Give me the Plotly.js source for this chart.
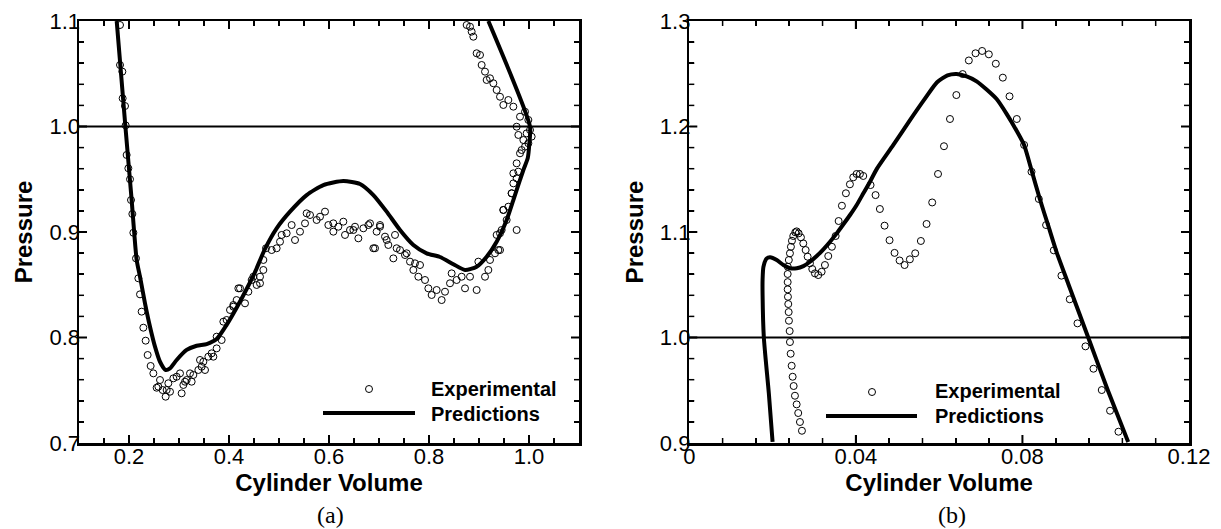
<!DOCTYPE html>
<html>
<head>
<meta charset="utf-8">
<script src="https://cdn.plot.ly/plotly-3.0.1.min.js"></script>
<style>html,body{margin:0;padding:0;background:#fff;}#chart{width:1221px;height:529px;}</style>
</head>
<body>
<div id="chart"></div>
<script>
// ---------- Panel (a) ----------
const expA_x = [0.182,0.182,0.1867,0.1873,0.192,0.1933,0.1953,0.1987,0.202,0.204,0.2067,0.2087,0.214,
0.2187,0.222,0.2253,0.2287,0.2333,0.2373,0.2433,0.2487,0.2553,0.262,0.2673,0.2733,0.282,0.2887,0.2953,0.3053,0.3087,0.3153,0.3253,0.3287,0.3387,0.3453,0.352,0.3587,0.3653,0.3753,0.3853,0.3953,0.402,0.4087,0.4153,0.422,0.432,0.4387,0.4487,0.462,0.4687,
0.2587,0.2753,0.2787,0.302,0.312,0.322,0.342,0.3487,0.3687,
0.3753,0.3887,0.4087,0.4187,0.4453,0.4553,0.462,0.4687,0.474,0.4853,0.4953,0.502,0.5053,0.5153,0.5253,0.532,0.542,0.552,0.562,0.5753,0.582,0.592,0.5987,0.6087,0.6187,0.6287,0.632,0.642,0.652,0.6587,0.6687,0.6787,0.6887,0.6953,
0.5553,0.6087,0.6487,0.682,0.702,0.7153,0.7353,0.7553,0.772,
0.702,0.692,0.712,0.7187,0.732,0.7287,0.742,0.752,0.762,0.7687,0.782,0.7787,0.792,0.7987,0.8053,0.8153,0.8253,0.832,0.842,0.8453,0.8553,0.8653,0.872,0.882,0.8953,0.8987,0.912,0.9187,0.922,0.932,0.9353,0.942,0.9453,0.9487,0.9553,0.9587,0.9653,0.9687,0.9753,0.9787,
0.9753,0.9853,0.9887,0.9953,1.002,0.9987,0.992,0.982,0.9753,0.9787,0.9687,0.9587,0.9487,0.942,0.9353,0.9287,0.922,0.9153,0.912,0.9053,0.902,0.8953,0.8887,0.8853,0.8753,0.882,
0.9753,0.9653,0.9687,0.9487,0.942,0.9387,0.982,0.992,0.9987,1.0053];
const expA_y = [1.0962,1.0583,1.052,1.0267,1.0194,1.0011,0.973,0.9604,0.95,0.9303,0.9171,0.8993,0.875,
0.8561,0.8409,0.8245,0.8093,0.797,0.7834,0.773,0.766,0.7524,0.7597,0.7502,0.7439,0.7486,0.7613,0.7628,0.7471,0.755,0.7597,0.7581,0.7645,0.7692,0.7723,0.7692,0.7818,0.785,0.7897,0.7976,0.8166,0.8261,0.8308,0.8355,0.8466,0.8324,0.8434,0.8576,0.8514,0.864,
0.7534,0.7502,0.7566,0.766,0.7581,0.766,0.7787,0.777,0.7818,
0.8008,0.815,0.8292,0.8466,0.8545,0.8498,0.8576,0.8735,0.8846,0.8829,0.8846,0.8908,0.8972,0.8988,0.9066,0.8924,0.9003,0.9082,0.9161,0.9114,0.9145,0.9193,0.9066,0.9003,0.905,0.9098,0.8972,0.9019,0.905,0.894,0.9035,0.9066,0.8846,0.9003,
0.9177,0.9082,0.9019,0.9082,0.905,0.8924,0.8846,0.8798,0.8703,
0.9066,0.8846,0.8956,0.8877,0.8972,0.875,0.8829,0.8782,0.8719,0.864,0.8687,0.8576,0.8545,0.8466,0.8403,0.845,0.8355,0.8434,0.8514,0.8608,0.8545,0.8576,0.8466,0.8576,0.845,0.8719,0.8576,0.864,0.8735,0.8798,0.8972,0.8829,0.9019,0.9209,0.9114,0.924,0.9367,0.9461,0.9509,0.9572,
0.9651,0.9777,0.9872,0.9935,0.9967,1.0062,1.014,1.0093,0.9998,0.992,1.0188,1.0251,1.0204,1.0282,1.0346,1.041,1.0457,1.0441,1.052,1.0583,1.0678,1.0694,1.0851,1.0899,1.0962,1.0946,
0.9019,0.9367,0.9556,0.9209,0.8988,0.8829,0.9746,0.9809,0.9841,0.9904];

const predA_x = [0.1754,0.1926,0.2053,0.2153,0.222,0.232,0.242,0.252,0.262,0.2733,0.282,0.2953,0.3153,0.3353,0.3553,0.3753,0.3953,0.415,0.4353,0.452,0.472,0.4953,0.522,0.5553,0.5887,0.6287,0.662,0.6887,0.7153,0.742,0.7687,0.7953,0.822,0.8487,0.872,0.8953,0.9153,0.9353,0.9553,0.9687,0.982,0.9887,0.9975,1.0007,1.002,0.9187];
const predA_y = [1.1,1.0011,0.9303,0.8735,0.8577,0.8324,0.8102,0.7913,0.777,0.7692,0.7708,0.7787,0.7882,0.7922,0.7938,0.7985,0.812,0.828,0.846,0.862,0.884,0.9035,0.9193,0.935,0.9445,0.9483,0.9455,0.935,0.9193,0.9019,0.8877,0.8798,0.8763,0.8695,0.864,0.8671,0.8766,0.8908,0.9114,0.9303,0.9493,0.9588,0.970,0.984,1.0,1.1];

// ---------- Panel (b) ----------
const expB_x = [0.02705,0.02657,0.02616,0.02578,0.02537,0.02506,0.02482,0.02458,0.02434,0.02417,0.0241,0.02393,0.02386,0.02377,0.02369,0.02362,0.02362,0.02362,0.02365,0.0239,0.02417,0.0244,0.02465,0.02497,0.02545,0.02578,0.02626,0.02681,0.02737,0.02794,0.02842,0.02897,0.02953,0.03017,0.03097,0.03178,0.03257,0.03337,0.03425,0.03514,0.03586,0.03665,0.03761,0.03857,0.03937,0.04018,0.04097,0.04177,0.04353,0.04473,0.04577,0.04689,0.04809,0.04929,0.0505,0.0517,0.05297,0.05425,0.05561,0.05698,0.05833,0.05973,0.06116,0.0626,0.06413,0.06565,0.06713,0.06874,0.07032,0.07193,0.07361,0.07529,0.0769,0.07865,0.0804,0.08218,0.08393,0.08568,0.08753,0.08937,0.09137,0.09322,0.09514,0.09706,0.09905,0.10104,0.10306];
const expB_y = [0.9116,0.9199,0.9284,0.9366,0.9448,0.954,0.9628,0.9732,0.9846,0.9957,1.0061,1.0159,1.0241,1.0317,1.0386,1.0456,1.0525,1.0602,1.0671,1.0734,1.0798,1.086,1.0917,1.0962,1.0997,1.1006,1.0987,1.0949,1.0892,1.0829,1.0766,1.0703,1.0649,1.0608,1.0592,1.0623,1.0687,1.0772,1.086,1.0962,1.1104,1.1249,1.1367,1.1452,1.1518,1.155,1.155,1.1531,1.1445,1.135,1.1218,1.106,1.0922,1.0802,1.073,1.0687,1.0741,1.0798,1.0915,1.1076,1.128,1.155,1.1813,1.2071,1.2298,1.2497,1.2626,1.2694,1.2716,1.2684,1.2595,1.2463,1.2286,1.2071,1.1825,1.1571,1.1313,1.1066,1.0826,1.0586,1.0362,1.0134,0.9916,0.9704,0.9502,0.9306,0.9107];

const predB_x = [0.0200,0.0191,0.0179,0.0176,0.0176,0.0178,0.0186,0.0194,0.0210,0.0226,0.0242,0.0258,0.0274,0.0290,0.0306,0.0322,0.0338,0.0354,0.0370,0.0386,0.0402,0.0418,0.0434,0.0450,0.0490,0.0530,0.0565,0.0595,0.0620,0.0642,0.0666,0.0690,0.0714,0.0738,0.0762,0.0786,0.0804,0.0823,0.0842,0.0862,0.0882,0.0910,0.0958,0.1005,0.1054];
const predB_y = [0.901,0.947,1.0,1.04,1.055,1.067,1.075,1.076,1.0734,1.0687,1.0656,1.0656,1.0677,1.0718,1.0772,1.0836,1.0908,1.0987,1.1073,1.1161,1.1256,1.1367,1.1477,1.1596,1.1825,1.2061,1.2260,1.2420,1.2485,1.2498,1.2475,1.2428,1.235,1.226,1.212,1.196,1.1825,1.157,1.131,1.106,1.081,1.051,1.0,0.95,0.901];

// ---------- Tick positions ----------
const xMajorA = [0.2,0.4,0.6,0.8,1.0];
const xMinorA = [0.15,0.25,0.3,0.35,0.45,0.5,0.55,0.65,0.7,0.75,0.85,0.9,0.95,1.05];
const yMajorA = [0.8,0.9,1.0];
const yMinorA = [0.72,0.74,0.76,0.78,0.82,0.84,0.86,0.88,0.92,0.94,0.96,0.98,1.02,1.04,1.06,1.08];
const xMajorB = [0.04,0.08];
const xMinorB = [0.008,0.016,0.024,0.032,0.048,0.056,0.064,0.072,0.088,0.096,0.104,0.112];
const yMajorB = [1.0,1.1,1.2];
const yMinorB = [0.92,0.94,0.96,0.98,1.02,1.04,1.06,1.08,1.12,1.14,1.16,1.18,1.22,1.24,1.26,1.28];

const legendLabels = ['Experimental','Predictions'];
const panelLabels = ['(a)','(b)'];
const xTitle = 'Cylinder Volume';
const yTitle = 'Pressure';

const SANS = 'Liberation Sans, Arial, sans-serif';
const marker = {symbol:'circle-open', size:7, color:'#000', line:{width:1, color:'#000'}};
const lineStyle = {color:'#000', width:4, shape:'spline', smoothing:0.6};

const traces = [
  {x:expA_x, y:expA_y, mode:'markers', marker:marker, xaxis:'x', yaxis:'y', name:legendLabels[0], showlegend:false},
  {x:predA_x, y:predA_y, mode:'lines', line:lineStyle, xaxis:'x', yaxis:'y', name:legendLabels[1], showlegend:false},
  {x:expB_x, y:expB_y, mode:'markers', marker:marker, xaxis:'x2', yaxis:'y2', name:legendLabels[0], showlegend:false},
  {x:predB_x, y:predB_y, mode:'lines', line:lineStyle, xaxis:'x2', yaxis:'y2', name:legendLabels[1], showlegend:false}
];

function axisBase(extra){
  return Object.assign({
    showline:true, linecolor:'#000', linewidth:2.5, mirror:'ticks',
    ticks:'inside', ticklen:8, tickwidth:1.5, tickcolor:'#000',
    showgrid:false, zeroline:false, ticklabelstandoff:-8,
    tickfont:{family:SANS, size:22, color:'#000'},
    tickmode:'linear'
  }, extra);
}
function minorTicks(d){
  return {dtick:d, ticks:'inside', ticklen:5, tickwidth:1.5, tickcolor:'#000', showgrid:false};
}
const W = 1221, H = 529, ML = 79, MR = 32, MT = 21, MB = 86;
const PW = W - ML - MR, PH = H - MT - MB;
const px = v => (v - ML) / PW, py = v => (H - MB - v) / PH;
const titleFont = {family:SANS, size:24, color:'#000', weight:'bold'};
const legFont = {family:SANS, size:20, color:'#000', weight:'bold'};
const serif = {family:'Liberation Serif, Times New Roman, serif', size:24, color:'#000'};

const domA = [0, 500/PW], domB = [(689.3-ML)/PW, 1];

// tick marks drawn on the frame (inside), positioned through each axis' scale
function tickShapes(xa, ya, domX, xMaj, xMin, yMaj, yMin){
  const out = [];
  const wpx = (domX[1]-domX[0]) * PW, hpx = PH;
  const add = (vals, len, w) => {
    vals.forEach(v => {
      const fx = len / hpx;
      out.push({type:'line', xref:xa, yref:ya+' domain', x0:v, x1:v, y0:0, y1:fx, line:{color:'#000', width:w}});
      out.push({type:'line', xref:xa, yref:ya+' domain', x0:v, x1:v, y0:1, y1:1-fx, line:{color:'#000', width:w}});
    });
  };
  const addY = (vals, len, w) => {
    vals.forEach(v => {
      const fy = len / wpx;
      out.push({type:'line', xref:xa+' domain', yref:ya, x0:0, x1:fy, y0:v, y1:v, line:{color:'#000', width:w}});
      out.push({type:'line', xref:xa+' domain', yref:ya, x0:1, x1:1-fy, y0:v, y1:v, line:{color:'#000', width:w}});
    });
  };
  add(xMaj, 8, 2); add(xMin, 5, 1.5);
  addY(yMaj, 8, 2); addY(yMin, 5, 1.5);
  return out;
}

const shapes = [
  {type:'line', xref:'x domain', yref:'y', x0:0, x1:1, y0:1, y1:1, line:{color:'#000', width:2}},
  {type:'line', xref:'x2 domain', yref:'y2', x0:0, x1:1, y0:1, y1:1, line:{color:'#000', width:2}},
  {type:'circle', xref:'paper', yref:'paper', xsizemode:'pixel', ysizemode:'pixel', xanchor:px(369), yanchor:py(389), x0:-3.5, x1:3.5, y0:-3.5, y1:3.5, line:{color:'#000', width:1}},
  {type:'line', xref:'paper', yref:'paper', x0:px(323), x1:px(415), y0:py(413), y1:py(413), line:{color:'#000', width:4}},
  {type:'circle', xref:'paper', yref:'paper', xsizemode:'pixel', ysizemode:'pixel', xanchor:px(872), yanchor:py(392), x0:-3.5, x1:3.5, y0:-3.5, y1:3.5, line:{color:'#000', width:1}},
  {type:'line', xref:'paper', yref:'paper', x0:px(826), x1:px(917), y0:py(416), y1:py(416), line:{color:'#000', width:4}}
].concat(
  tickShapes('x', 'y', domA, xMajorA, xMinorA, yMajorA, yMinorA),
  tickShapes('x2', 'y2', domB, xMajorB, xMinorB, yMajorB, yMinorB)
);

const layout = {
  width:W, height:H,
  margin:{l:ML, r:MR, t:MT, b:MB},
  paper_bgcolor:'#fff', plot_bgcolor:'#fff',
  showlegend:false,
  xaxis: axisBase({domain:domA, range:[0.1,1.1], tick0:0, dtick:0.2, tickformat:'.1f',
    minor:minorTicks(0.05), title:{text:xTitle, font:titleFont, standoff:4}, anchor:'y'}),
  yaxis: axisBase({domain:[0,1], range:[0.7,1.1], tick0:0, dtick:0.1, tickformat:'.1f',
    minor:minorTicks(0.02), title:{text:yTitle, font:titleFont, standoff:10}, anchor:'x'}),
  xaxis2: axisBase({domain:domB, range:[0,0.12], tick0:0, dtick:0.04,
    minor:minorTicks(0.008), title:{text:xTitle, font:titleFont, standoff:4}, anchor:'y2'}),
  yaxis2: axisBase({domain:[0,1], range:[0.9,1.3], tick0:0, dtick:0.1, tickformat:'.1f',
    minor:minorTicks(0.02), title:{text:yTitle, font:titleFont, standoff:10}, anchor:'x2'}),
  shapes:shapes,
  annotations:[
    {text:legendLabels[0], xref:'paper', yref:'paper', x:px(429), y:py(389), xanchor:'left', yanchor:'middle', showarrow:false, font:legFont},
    {text:legendLabels[1], xref:'paper', yref:'paper', x:px(429), y:py(414), xanchor:'left', yanchor:'middle', showarrow:false, font:legFont},
    {text:legendLabels[0], xref:'paper', yref:'paper', x:px(933), y:py(391), xanchor:'left', yanchor:'middle', showarrow:false, font:legFont},
    {text:legendLabels[1], xref:'paper', yref:'paper', x:px(933), y:py(416), xanchor:'left', yanchor:'middle', showarrow:false, font:legFont},
    {text:panelLabels[0], xref:'paper', yref:'paper', x:px(330), y:py(515), xanchor:'center', yanchor:'middle', showarrow:false, font:serif},
    {text:panelLabels[1], xref:'paper', yref:'paper', x:px(952), y:py(515), xanchor:'center', yanchor:'middle', showarrow:false, font:serif}
  ]
};

Plotly.newPlot('chart', traces, layout, {displayModeBar:false, staticPlot:true});
</script>
</body>
</html>
